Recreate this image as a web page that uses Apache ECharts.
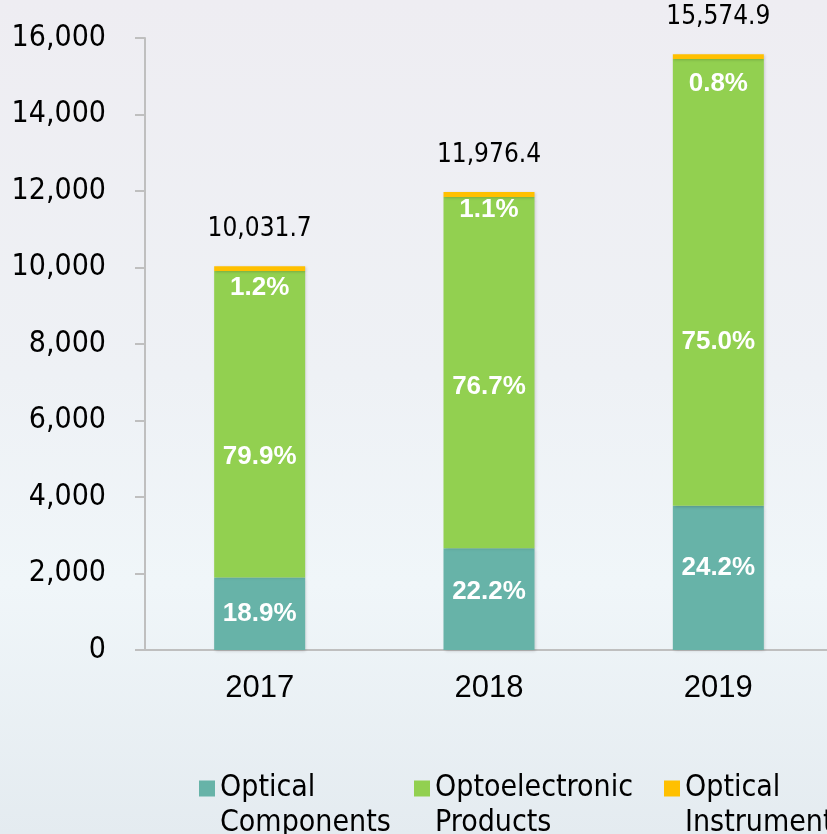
<!DOCTYPE html>
<html>
<head>
<meta charset="utf-8">
<script src="https://cdn.jsdelivr.net/npm/echarts@6/dist/echarts.min.js"></script>
<style>
  html, body { margin: 0; padding: 0; overflow: hidden; }
  body {
    width: 827px;
    height: 834px;
    background: linear-gradient(180deg, #eeedf2 0%, #eef1f5 45%, #f0f6f9 70%, #e4ebf0 100%);
  }
  /* a bit wider than the window: the last bar slot runs past the right edge */
  #chart { width: 833px; height: 834px; }
</style>
</head>
<body>
<div id="chart"></div>
<script>
// values
const years = ['2017', '2018', '2019']
const totals = [10031.7, 11976.4, 15574.9]
const opticalComponents = [1896, 2659, 3769]
const optoelectronicProducts = [8015, 9186, 11681]
const opticalInstrument = [120, 132, 125]
const componentsShare = ['18.9%', '22.2%', '24.2%']
const productsShare = ['79.9%', '76.7%', '75.0%']
const instrumentShare = ['1.2%', '1.1%', '0.8%']
const yTicks = [0, 2000, 4000, 6000, 8000, 10000, 12000, 14000, 16000]

// label nudges (px), the percentages were placed by hand in the original
const componentsShift = [0, -7, -10]
const productsShift = [33, 14, 59]
const instrumentShift = [0, -4, 8]

const numFont = 'DejaVu Sans Condensed, DejaVu Sans, sans-serif'
const colors = {
    components: '#67b3a8',
    products: '#92d050',
    instrument: '#ffc000'
}

const chart = echarts.init(document.getElementById('chart'))

const pctLabel = {
    show: true,
    color: '#fff',
    fontFamily: 'Liberation Sans, Arial, sans-serif',
    fontWeight: 'bold',
    fontSize: 26
}

const barShadow = {
    shadowBlur: 3,
    shadowColor: 'rgba(0,0,0,0.18)',
    shadowOffsetX: 1,
    shadowOffsetY: 1
}

const withLabel = (values, texts, shift) => values.map((v, i) => ({
    value: v,
    label: { formatter: texts[i], offset: [0, shift[i]] }
}))

// empty first line so the marker sits next to the first text line
const legendItem = (name, text, left) => ({
    data: [name],
    left: left,
    top: 731,
    itemWidth: 16,
    itemHeight: 16,
    icon: 'rect',
    selectedMode: false,
    formatter: () => '\n' + text,
    textStyle: {
        fontFamily: numFont,
        fontSize: 30,
        color: '#000',
        lineHeight: 35
    }
})

chart.setOption({
    animation: false,
    grid: {
        left: 145,
        right: 0,
        top: 38,
        bottom: 184
    },
    legend: [
        legendItem('Optical Components', 'Optical\nComponents', 194),
        legendItem('Optoelectronic Products', 'Optoelectronic\nProducts', 409),
        legendItem('Optical Instrument', 'Optical\nInstrument', 659)
    ],
    xAxis: {
        type: 'category',
        data: years,
        axisLine: { lineStyle: { color: '#bfbfbf', width: 2 } },
        axisTick: { show: false },
        axisLabel: {
            color: '#000',
            fontFamily: 'Liberation Sans, Arial, sans-serif',
            fontSize: 31,
            margin: 23
        }
    },
    yAxis: {
        type: 'value',
        min: yTicks[0],
        max: yTicks[yTicks.length - 1],
        interval: yTicks[1] - yTicks[0],
        splitLine: { show: false },
        axisLine: { show: true, lineStyle: { color: '#bfbfbf', width: 2 } },
        axisTick: { show: true, length: 10, lineStyle: { color: '#bfbfbf', width: 2 } },
        axisLabel: {
            color: '#000',
            fontFamily: numFont,
            fontSize: 30,
            margin: 39,
            formatter: (v) => v.toLocaleString('en-US')
        }
    },
    series: [
        {
            name: 'Optical Components',
            type: 'bar',
            stack: 'total',
            barWidth: 91,
            itemStyle: Object.assign({ color: colors.components }, barShadow),
            label: Object.assign({ position: 'inside' }, pctLabel),
            data: withLabel(opticalComponents, componentsShare, componentsShift)
        },
        {
            name: 'Optoelectronic Products',
            type: 'bar',
            stack: 'total',
            itemStyle: Object.assign({ color: colors.products }, barShadow),
            label: Object.assign({ position: 'inside' }, pctLabel),
            data: withLabel(optoelectronicProducts, productsShare, productsShift)
        },
        {
            name: 'Optical Instrument',
            type: 'bar',
            stack: 'total',
            itemStyle: Object.assign({ color: colors.instrument }, barShadow),
            label: Object.assign({ position: 'bottom', distance: 4 }, pctLabel),
            data: withLabel(opticalInstrument, instrumentShare, instrumentShift)
        },
        {
            // empty segment on top of the stack, only carries the total label
            name: 'Total',
            type: 'bar',
            stack: 'total',
            itemStyle: { color: 'transparent' },
            label: {
                show: true,
                position: 'top',
                distance: 24,
                color: '#000',
                fontFamily: numFont,
                fontSize: 26,
                formatter: (p) => totals[p.dataIndex].toLocaleString('en-US', { minimumFractionDigits: 1 })
            },
            data: years.map(() => 0)
        }
    ]
})
</script>
</body>
</html>
